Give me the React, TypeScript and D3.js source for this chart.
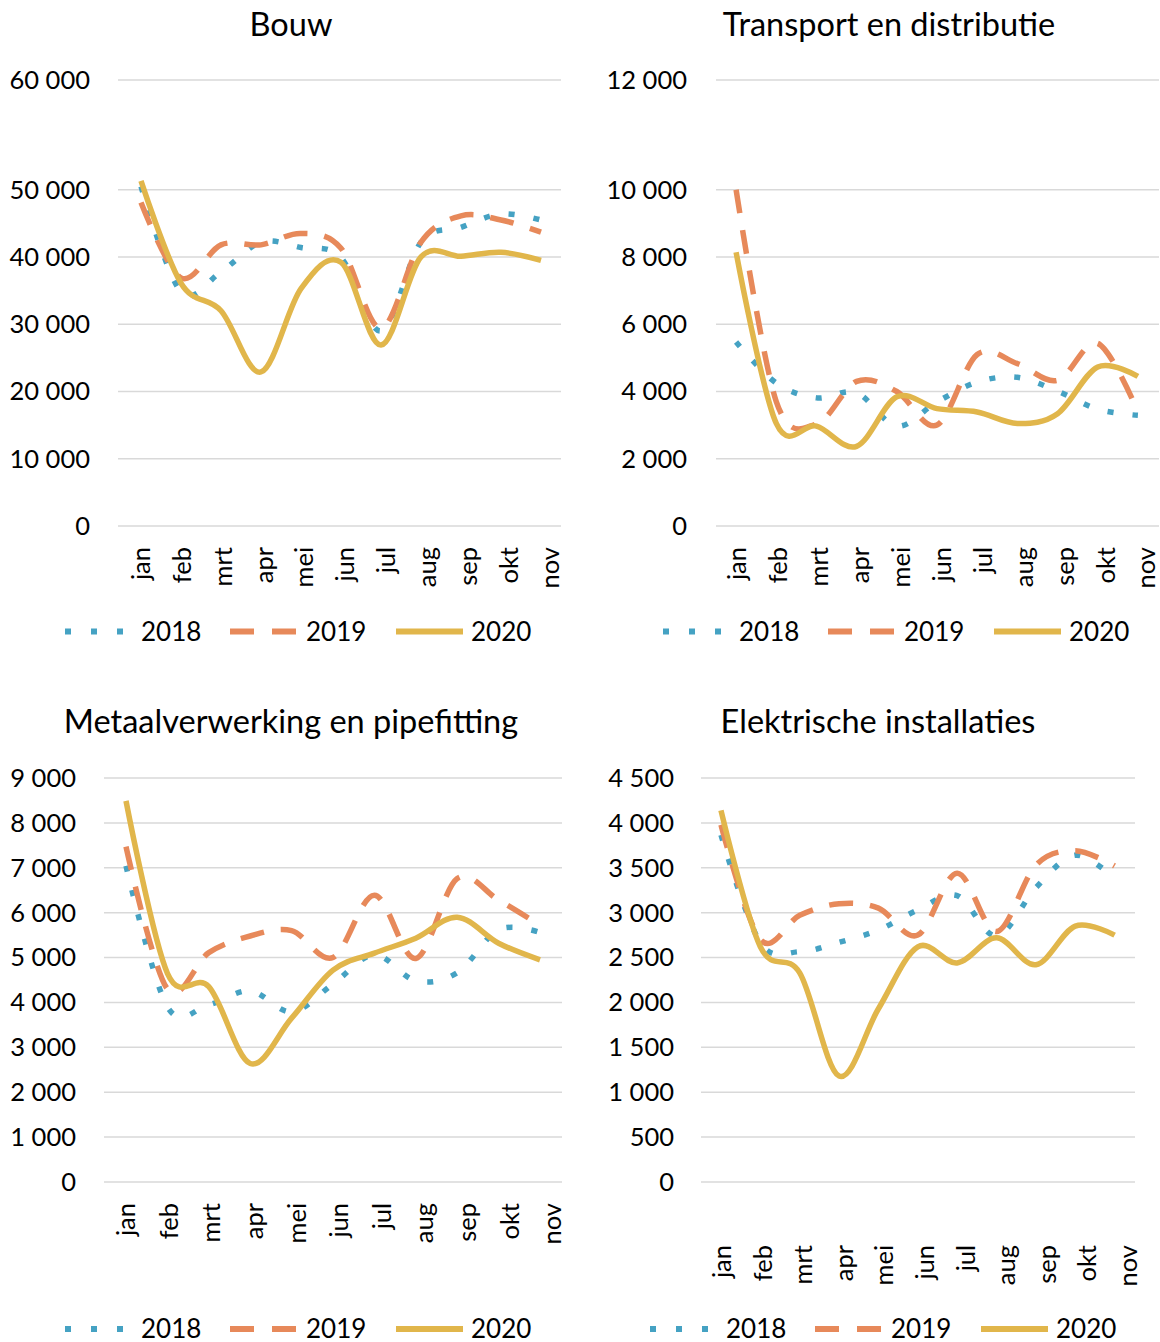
import React from "react";
import * as d3 from "d3";

const months = ["jan", "feb", "mrt", "apr", "mei", "jun", "jul", "aug", "sep", "okt", "nov"];
const years = ["2018", "2019", "2020"];

const bouw2018 = [50300, 34800, 37800, 42200, 41400, 39900, 29000, 42200, 44400, 46400, 45500];
const bouw2019 = [48100, 36900, 41800, 41800, 43500, 41300, 29400, 42200, 46100, 45500, 43700];
const bouw2020 = [50800, 36100, 32000, 22900, 35300, 39200, 26900, 40000, 40100, 40700, 39500];
const bouwTicks = [0, 10000, 20000, 30000, 40000, 50000, 60000];

const transport2018 = [5470, 4250, 3810, 3960, 2970, 3690, 4280, 4420, 4010, 3470, 3290];
const transport2019 = [10000, 3700, 3030, 4300, 4000, 3000, 5100, 4830, 4330, 5430, 3400];
const transport2020 = [8140, 3050, 2970, 2370, 3840, 3490, 3390, 3050, 3340, 4730, 4450];
const transportTicks = [0, 2000, 4000, 6000, 8000, 10000, 12000];

const metaal2018 = [7040, 3900, 3950, 4260, 3790, 4410, 5060, 4480, 4660, 5620, 5560];
const metaal2019 = [7470, 4300, 5110, 5480, 5600, 5000, 6390, 4980, 6760, 6280, 5720];
const metaal2020 = [8490, 4650, 4350, 2640, 3650, 4720, 5100, 5430, 5900, 5320, 4950];
const metaalTicks = [0, 1000, 2000, 3000, 4000, 5000, 6000, 7000, 8000, 9000];

const elek2018 = [3865, 2665, 2565, 2670, 2807, 3030, 3190, 2740, 3278, 3640, 3380];
const elek2019 = [3980, 2700, 2970, 3100, 3050, 2750, 3440, 2790, 3530, 3690, 3520];
const elek2020 = [4140, 2620, 2330, 1180, 1930, 2620, 2440, 2720, 2420, 2850, 2750];
const elekTicks = [0, 500, 1000, 1500, 2000, 2500, 3000, 3500, 4000, 4500];

const COLORS = ["#45A2C3", "#E7895A", "#E1B64B"];
const DASHES = ["6 19", "24 17", null];
const FONT = "Lato, 'Open Sans', sans-serif";

const fmt = d3.formatLocale({ decimal: ",", thousands: " ", grouping: [3], currency: ["", ""] }).format(",");

type Cfg = {
  title: string;
  titleX: number;
  titleY: number;
  series: number[][];
  ticks: number[];
  yDomain: number[];
  yRange: number[];
  xRange: [number, number];
  gridX: [number, number];
  tickRight: number;
  labelStart: number;
  labelStep: number;
  labelTop: number;
  legendX: number;
  legendY: number;
};

const panels: Cfg[] = [
  {
    title: "Bouw", titleX: 291, titleY: 36,
    series: [bouw2018, bouw2019, bouw2020], ticks: bouwTicks,
    yDomain: [0, 50000, 60000], yRange: [526, 189.7, 80],
    xRange: [121, 561], gridX: [118, 561], tickRight: 90,
    labelStart: 149.8, labelStep: 40.9, labelTop: 547,
    legendX: 65, legendY: 631.5,
  },
  {
    title: "Transport en distributie", titleX: 889, titleY: 36,
    series: [transport2018, transport2019, transport2020], ticks: transportTicks,
    yDomain: [0, 10000, 12000], yRange: [526, 189.7, 80],
    xRange: [716, 1158], gridX: [716, 1159], tickRight: 687,
    labelStart: 746.4, labelStep: 40.9, labelTop: 547,
    legendX: 663, legendY: 631.5,
  },
  {
    title: "Metaalverwerking en pipefitting", titleX: 291, titleY: 733,
    series: [metaal2018, metaal2019, metaal2020], ticks: metaalTicks,
    yDomain: [0, 9000], yRange: [1182, 778],
    xRange: [105.3, 560.7], gridX: [104, 562], tickRight: 76,
    labelStart: 135.2, labelStep: 42.6, labelTop: 1203,
    legendX: 65, legendY: 1329,
  },
  {
    title: "Elektrische installaties", titleX: 878, titleY: 733,
    series: [elek2018, elek2019, elek2020], ticks: elekTicks,
    yDomain: [0, 4500], yRange: [1182, 778],
    xRange: [701.3, 1134.3], gridX: [701, 1135], tickRight: 674,
    labelStart: 731, labelStep: 40.6, labelTop: 1245,
    legendX: 650, legendY: 1329,
  },
];

function Panel({ cfg }: { cfg: Cfg }) {
  const x = d3.scaleBand<string>().domain(months).range(cfg.xRange);
  const cx = (m: string) => (x(m) as number) + x.bandwidth() / 2;
  const y = d3.scaleLinear().domain(cfg.yDomain).range(cfg.yRange);
  const line = d3
    .line<number>()
    .x((_, i) => cx(months[i]))
    .y((v) => y(v))
    .curve(d3.curveCardinal.tension(0));

  const legendOffsets = [
    { x0: 0, x1: 58, tx: 76 },
    { x0: 165, x1: 231, tx: 241 },
    { x0: 331, x1: 398, tx: 406 },
  ];

  return (
    <g>
      <text x={cfg.titleX} y={cfg.titleY} textAnchor="middle" fontSize={32.5} fill="#000">
        {cfg.title}
      </text>
      {cfg.ticks.map((t) => (
        <g key={t}>
          <line x1={cfg.gridX[0]} x2={cfg.gridX[1]} y1={y(t)} y2={y(t)} stroke="#D9D9D9" strokeWidth={1.5} />
          <text x={cfg.tickRight} y={y(t)} dy="0.35em" textAnchor="end" fontSize={25.5} fill="#000">
            {fmt(t)}
          </text>
        </g>
      ))}
      {months.map((m, i) => (
        <text
          key={m}
          transform={`translate(${cfg.labelStart + cfg.labelStep * i},${cfg.labelTop}) rotate(-90)`}
          textAnchor="end"
          fontSize={25.5}
          fill="#000"
        >
          {m}
        </text>
      ))}
      {cfg.series.map((s, k) => (
        <path
          key={k}
          d={line(s) || ""}
          fill="none"
          stroke={COLORS[k]}
          strokeWidth={5.5}
          strokeDasharray={DASHES[k] || undefined}
          strokeLinecap="butt"
          strokeLinejoin="round"
        />
      ))}
      {years.map((yr, k) => (
        <g key={yr}>
          <line
            x1={cfg.legendX + legendOffsets[k].x0}
            x2={cfg.legendX + legendOffsets[k].x1}
            y1={cfg.legendY}
            y2={cfg.legendY}
            stroke={COLORS[k]}
            strokeWidth={6}
            strokeDasharray={k === 0 ? "6 20" : k === 1 ? "24 18" : undefined}
          />
          <text x={cfg.legendX + legendOffsets[k].tx} y={cfg.legendY} dy="0.35em" fontSize={26} fill="#000">
            {yr}
          </text>
        </g>
      ))}
    </g>
  );
}

export default function App() {
  return (
    <svg
      width={1160}
      height={1342}
      style={{ position: "absolute", left: 0, top: 0, background: "#fff", fontFamily: FONT }}
    >
      <rect width={1160} height={1342} fill="#fff" />
      {panels.map((p) => (
        <Panel key={p.title} cfg={p} />
      ))}
    </svg>
  );
}
